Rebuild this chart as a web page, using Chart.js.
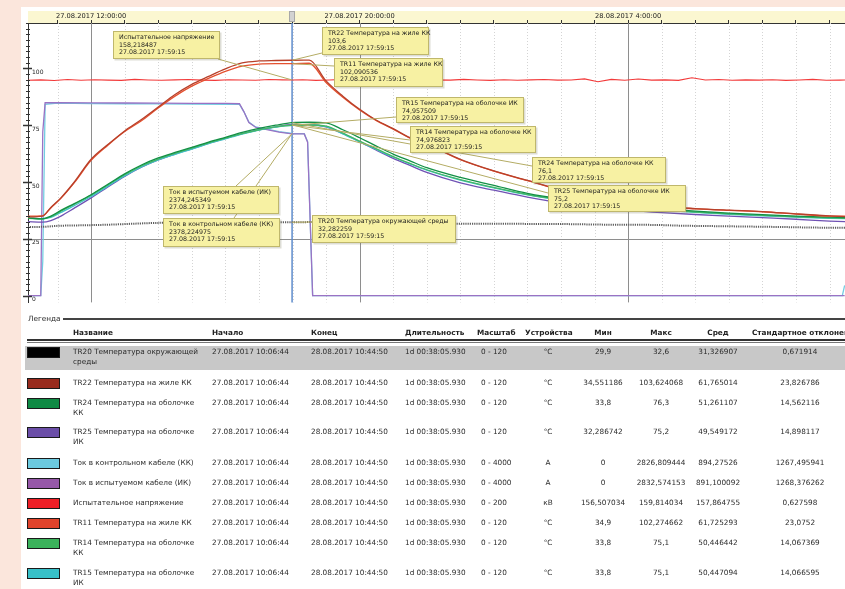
<!DOCTYPE html>
<html>
<head>
<meta charset="utf-8">
<title>Нагрев кабеля</title>
<script src="https://cdn.jsdelivr.net/npm/chart.js@4.4.1/dist/chart.umd.min.js"></script>
<style>
  html, body { margin: 0; padding: 0; width: 845px; height: 589px; overflow: hidden;
    background: #fbe6dc; font-family: "DejaVu Sans", Verdana, sans-serif; }
  #panel { position: absolute; left: 21px; top: 7px; width: 824px; height: 582px; background: #fff; }
  #chartBox { position: absolute; left: 0; top: 0; width: 845px; height: 310px; }
  #legend { position: absolute; left: 0; top: 0; width: 845px; height: 589px; overflow: hidden; }
  .t { position: absolute; font-size: 7.3px; line-height: 10px; color: #2b2b2b; white-space: nowrap; }
  .c { text-align: center; width: 90px; }
  .h { font-weight: bold; color: #222; }
  .nm { white-space: normal; width: 131px; line-height: 9.7px; }
  .sw { position: absolute; width: 31px; height: 9px; border: 1px solid #1a1a1a; box-sizing: content-box; }
  .hl { position: absolute; background: #c8c8c8; }
  .rule { position: absolute; background: #444; }
</style>
</head>
<body>
<div id="panel"></div>
<div id="chartBox"><canvas id="chart"></canvas></div>
<div id="legend"></div>
<script>
// ---- time axis: hours from 27.08.2017 00:00 ----
const cursorHour = 17.9875;               // 27.08.2017 17:59:15
const cursorStamp = '27.08.2017 17:59:15';
const axisHours = [11, 12, 13, 14, 15, 16, 17, 18, 19, 20, 21, 22, 23, 24, 25, 26, 27, 28, 29, 30, 31, 32, 33, 34];
const majorHours = [12, 20, 28];
const majorLabels = ['27.08.2017 12:00:00', '27.08.2017 20:00:00', '28.08.2017 4:00:00'];
const yTickValues = [0, 25, 50, 75, 100];

// ---- temperatures, °C ----
const hours = [10.11, 10.55, 10.8, 11.1, 11.5, 12.0, 12.5, 13.0, 13.5, 14.0, 14.5, 15.0, 15.5, 16.0, 16.5, 17.0, 17.5,
  17.9875, 18.5, 19.0, 19.5, 20.0, 20.5, 21.0, 21.5, 22.0, 23.0, 24.0, 25.0, 26.0, 27.0, 28.0, 29.0, 30.0, 31.0, 32.0, 33.0, 34.0, 34.75];
const tr22 = [34.6, 35.0, 38.8, 43.0, 50.0, 60.0, 66.5, 72.5, 77.5, 83.0, 88.5, 93.0, 96.5, 99.8, 102.4, 103.3, 103.5,
  103.6, 103.62, 94.5, 87.8, 82.0, 77.2, 73.5, 69.5, 66.8, 60.0, 54.9, 50.7, 46.5, 43.5, 41.2, 39.3, 38.3, 37.6, 37.0, 36.0, 35.1, 34.6];
const tr11 = [35.0, 35.1, 38.6, 42.8, 49.7, 59.5, 66.2, 72.2, 77.0, 82.6, 87.8, 92.2, 95.6, 98.7, 101.0, 101.9, 102.1,
  102.090536, 102.27, 93.8, 87.3, 81.7, 77.0, 73.3, 69.3, 66.6, 59.8, 54.8, 50.6, 46.4, 43.4, 41.1, 39.2, 38.2, 37.5, 36.9, 35.9, 35.0, 34.9];
const tr24 = [34.2, 33.8, 35.0, 37.5, 40.5, 44.4, 49.0, 53.6, 57.5, 60.6, 63.0, 65.2, 67.6, 69.7, 71.8, 73.6, 75.0,
  76.1, 76.3, 76.0, 73.0, 69.5, 65.8, 62.3, 59.3, 56.3, 52.0, 48.5, 45.0, 42.6, 41.0, 39.6, 38.3, 37.2, 36.3, 35.6, 35.0, 34.5, 34.2];
const tr14 = [34.0, 33.8, 34.7, 37.2, 40.2, 44.2, 48.7, 53.2, 57.1, 60.1, 62.6, 64.9, 67.2, 69.3, 71.3, 73.0, 74.3,
  74.976823, 75.1, 74.6, 71.5, 68.0, 64.6, 61.2, 58.2, 55.4, 51.0, 47.6, 44.5, 42.2, 40.4, 39.0, 37.8, 36.8, 36.0, 35.3, 34.7, 34.2, 33.9];
const tr15 = [34.1, 33.8, 34.4, 36.6, 39.6, 43.6, 48.2, 52.7, 56.6, 59.7, 62.2, 64.5, 66.9, 69.0, 71.1, 72.9, 74.2,
  74.957509, 75.1, 74.4, 71.2, 67.7, 64.3, 61.0, 58.0, 55.2, 50.8, 47.4, 44.3, 42.0, 40.2, 38.8, 37.6, 36.6, 35.8, 35.1, 34.5, 34.0, 33.8];
const tr25 = [32.6, 32.3, 33.0, 35.0, 38.5, 43.0, 47.8, 52.5, 56.5, 59.7, 62.3, 64.6, 67.0, 69.2, 71.3, 73.0, 74.3,
  75.2, 75.2, 74.3, 71.3, 67.8, 64.0, 60.4, 57.3, 54.2, 49.6, 46.4, 43.3, 40.7, 38.8, 37.5, 36.5, 35.7, 35.0, 34.3, 33.6, 32.8, 32.4];

// ---- ambient temperature TR20, °C ----
const ambHours = [10.11, 10.6, 11.0, 11.6, 12.5, 13.2, 14.0, 15.0, 16.5, 17.9875, 19.0, 20.5, 21.5, 22.5, 24.0, 26.0, 27.5, 28.8, 29.5, 31.0, 32.5, 33.9, 34.75];
const tr20 = [30.2, 30.3, 30.7, 30.9, 31.2, 31.6, 32.0, 32.1, 32.2, 32.282259, 32.4, 32.2, 31.9, 31.7, 31.6, 31.5, 31.2, 31.1, 30.8, 30.5, 30.2, 29.9, 29.9];

// ---- cable currents, A ----
const curHours = [10.11, 10.5, 10.56, 10.63, 11.0, 12.0, 13.0, 14.0, 15.0, 16.0, 16.42, 16.55, 16.7, 16.9, 17.2, 17.6,
  17.9875, 18.35, 18.45, 18.6, 20.0, 25.0, 30.0, 34.38, 34.45];
const curIK = [0, 0, 2400, 2832, 2830, 2828, 2826, 2825, 2822, 2820, 2815, 2700, 2540, 2470, 2440, 2400,
  2374.245349, 2372, 2250, 0, 0, 0, 0, 0, 0];
const curKK = [0, 0, 500, 2805, 2826, 2818, 2815, 2812, 2810, 2808, 2805, 2700, 2545, 2475, 2445, 2405,
  2378.224975, 2376, 2260, 0, 0, 0, 0, 0, 150];

// ---- test voltage, kV ----
const voltHours = [10.11, 10.5, 10.9, 11.3, 11.7, 12.1, 12.5, 12.9, 13.3, 13.7, 14.1, 14.5, 14.9, 15.3, 15.7, 16.1,
  16.5, 16.9, 17.3, 17.7, 17.9875, 18.3, 18.7, 19.1, 19.5, 19.9, 20.3, 20.7, 21.1, 21.5, 21.9, 22.3, 22.7, 23.1,
  23.5, 23.9, 24.3, 24.7, 25.1, 25.5, 25.9, 26.3, 26.7, 27.1, 27.5, 27.9, 28.3, 28.7, 29.1, 29.5, 29.9, 30.3,
  30.7, 31.1, 31.5, 31.9, 32.3, 32.7, 33.1, 33.5, 33.9, 34.3, 34.75];
const voltage = [158.0, 158.3, 157.8, 158.5, 158.0, 158.4, 158.1, 157.9, 158.6, 158.2, 158.0, 158.3, 158.5, 158.1,
  157.9, 158.4, 158.2, 158.0, 158.5, 158.3, 158.218487, 158.4, 157.9, 158.2, 158.6, 158.1, 158.3, 157.8, 158.2,
  158.5, 158.0, 158.3, 158.1, 158.6, 158.2, 157.9, 158.4, 158.0, 158.3, 158.5, 158.1, 158.2, 159.0, 156.9, 158.6,
  158.0, 158.9, 158.1, 158.3, 157.9, 159.8, 158.2, 158.5, 158.0, 158.3, 158.1, 158.4, 157.9, 158.2, 158.6, 158.0, 158.1, 158.3];

// ---- legend table ----
const legendNames = ['TR20 Температура окружающей среды', 'TR22 Температура на жиле КК', 'TR24 Температура на оболочке КК',
  'TR25 Температура на оболочке ИК', 'Ток в контрольном кабеле (КК)', 'Ток в испытуемом кабеле (ИК)',
  'Испытательное напряжение', 'TR11 Температура на жиле КК', 'TR14 Температура на оболочке КК', 'TR15 Температура на оболочке ИК'];
const legendColors = ['#000000', '#982b1d', '#0f8a44', '#6b4ea8', '#6ccadf', '#9658a8', '#ee1f26', '#e0432b', '#3bb25b', '#37c0c8'];
const legendStart = '27.08.2017 10:06:44';
const legendEnd = '28.08.2017 10:44:50';
const legendDuration = '1d 00:38:05.930';
const legendScales = ['0 - 120', '0 - 120', '0 - 120', '0 - 120', '0 - 4000', '0 - 4000', '0 - 200', '0 - 120', '0 - 120', '0 - 120'];
const legendUnits = ['°C', '°C', '°C', '°C', 'A', 'A', 'кВ', '°C', '°C', '°C'];
const statMin = ['29,9', '34,551186', '33,8', '32,286742', '0', '0', '156,507034', '34,9', '33,8', '33,8'];
const statMax = ['32,6', '103,624068', '76,3', '75,2', '2826,809444', '2832,574153', '159,814034', '102,274662', '75,1', '75,1'];
const statAvg = ['31,326907', '61,765014', '51,261107', '49,549172', '894,27526', '891,100092', '157,864755', '61,725293', '50,446442', '50,447094'];
const statStd = ['0,671914', '23,826786', '14,562116', '14,898117', '1267,495941', '1268,376262', '0,627598', '23,0752', '14,067369', '14,066595'];
const headers = ['Название', 'Начало', 'Конец', 'Длительность', 'Масштаб', 'Устройства', 'Мин', 'Макс', 'Сред', 'Стандартное отклонение'];

// ---- series drawn on the chart (first entry is drawn on top) ----
const series = [
  { name: 'TR20 Температура окружающей среды', t: ambHours, v: tr20, axis: 'y', color: '#5e5e5e', width: 2, dash: [1.2, 1] },
  { name: 'TR22 Температура на жиле КК', t: hours, v: tr22, axis: 'y', color: '#b8402a', width: 1.3 },
  { name: 'TR11 Температура на жиле КК', t: hours, v: tr11, axis: 'y', color: '#e5512f', width: 1.3 },
  { name: 'TR24 Температура на оболочке КК', t: hours, v: tr24, axis: 'y', color: '#139046', width: 1.3 },
  { name: 'TR14 Температура на оболочке КК', t: hours, v: tr14, axis: 'y', color: '#45b865', width: 1.3 },
  { name: 'TR15 Температура на оболочке ИК', t: hours, v: tr15, axis: 'y', color: '#3fc3cb', width: 1.3 },
  { name: 'TR25 Температура на оболочке ИК', t: hours, v: tr25, axis: 'y', color: '#7052b4', width: 1.3 },
  { name: 'Испытательное напряжение', t: voltHours, v: voltage, axis: 'yV', color: '#f23a3a', width: 1.1, straight: true },
  { name: 'Ток в испытуемом кабеле (ИК)', t: curHours, v: curIK, axis: 'yI', color: '#9a72c4', width: 1.3, straight: true },
  { name: 'Ток в контрольном кабеле (КК)', t: curHours, v: curKK, axis: 'yI', color: '#72cde2', width: 1.3, straight: true }
];

// callout boxes at the cursor: [left, top, width, height] and the leader start point
const callouts = [
  { name: 'Испытательное напряжение', box: [113, 31, 107, 28], from: [218, 59] },
  { name: 'TR22 Температура на жиле КК', box: [322, 27, 107, 28], from: [322, 53] },
  { name: 'TR11 Температура на жиле КК', box: [334, 58, 109, 29], from: [334, 66] },
  { name: 'TR15 Температура на оболочке ИК', box: [396, 97, 128, 26], from: [396, 117] },
  { name: 'TR14 Температура на оболочке КК', box: [410, 126, 126, 27], from: [410, 140] },
  { name: 'TR24 Температура на оболочке КК', box: [532, 157, 134, 26], from: [532, 166] },
  { name: 'TR25 Температура на оболочке ИК', box: [548, 185, 138, 27], from: [548, 193] },
  { name: 'Ток в контрольном кабеле (КК)', box: [163, 218, 117, 29], from: [234, 218] },
  { name: 'Ток в испытуемом кабеле (ИК)', box: [163, 186, 116, 28], from: [236, 186] },
  { name: 'TR20 Температура окружающей среды', box: [312, 215, 144, 28], from: [312, 222] }
];

const fmt = v => String(v).replace('.', ',');
const chartFont = '"DejaVu Sans", Verdana, sans-serif';

const datasets = series.map(s => ({
  label: s.name,
  data: s.t.map((t, i) => ({ x: t, y: s.v[i] })),
  yAxisID: s.axis,
  borderColor: s.color,
  borderWidth: s.width,
  borderDash: s.dash || [],
  pointRadius: 0,
  fill: false,
  tension: s.straight ? 0 : 0.4,
  cubicInterpolationMode: s.straight ? 'default' : 'monotone'
}));

const overlay = {
  id: 'overlay',
  beforeDatasetsDraw(chart) {
    const { ctx, chartArea: a, scales: { x, y } } = chart;
    ctx.save();
    axisHours.forEach(h => {
      const px = Math.round(x.getPixelForValue(h)) + 0.5;
      const major = majorHours.includes(h);
      ctx.beginPath();
      ctx.lineWidth = 1;
      ctx.strokeStyle = major ? '#8e8e8e' : '#d4d4d4';
      ctx.setLineDash(major ? [] : [1, 2]);
      ctx.moveTo(px, a.top);
      ctx.lineTo(px, a.bottom);
      ctx.stroke();
    });
    ctx.setLineDash([]);
    const py = Math.round(y.getPixelForValue(25)) + 0.5;
    ctx.strokeStyle = '#8e8e8e';
    ctx.beginPath(); ctx.moveTo(a.left, py); ctx.lineTo(a.right, py); ctx.stroke();
    const cx = x.getPixelForValue(cursorHour);
    ctx.strokeStyle = '#5d8bcb';
    ctx.lineWidth = 1.5;
    ctx.beginPath(); ctx.moveTo(cx, a.top); ctx.lineTo(cx, a.bottom); ctx.stroke();
    ctx.restore();
  },
  afterDatasetsDraw(chart) {
    const { ctx, scales } = chart;
    const cx = scales.x.getPixelForValue(cursorHour);
    ctx.save();
    const items = callouts.map(c => {
      const s = series.find(d => d.name === c.name);
      const value = s.v[s.t.indexOf(cursorHour)];
      return { c, value, py: scales[s.axis].getPixelForValue(value) };
    });
    ctx.strokeStyle = '#b4ac64';
    ctx.lineWidth = 1;
    items.forEach(({ c, py }) => {
      ctx.beginPath(); ctx.moveTo(c.from[0], c.from[1]); ctx.lineTo(cx, py); ctx.stroke();
    });
    ctx.font = '6.3px ' + chartFont;
    ctx.textBaseline = 'middle';
    items.forEach(({ c, value }) => {
      const [bx, by, bw, bh] = c.box;
      ctx.fillStyle = 'rgba(120,120,90,0.25)';
      ctx.fillRect(bx + 1.5, by + 1.5, bw, bh);
      ctx.fillStyle = '#f7f1a3';
      ctx.fillRect(bx, by, bw, bh);
      ctx.strokeStyle = '#bfb76c';
      ctx.strokeRect(bx + 0.5, by + 0.5, bw - 1, bh - 1);
      ctx.fillStyle = '#1c1c1c';
      [c.name, fmt(value), cursorStamp].forEach((line, k) => ctx.fillText(line, bx + 6, by + 6.5 + k * 7.6));
    });
    ctx.restore();
  },
  afterDraw(chart) {
    const { ctx, chartArea: a, scales: { x, y } } = chart;
    ctx.save();
    ctx.strokeStyle = '#333';
    ctx.lineWidth = 1;
    for (let v = 0; v <= 120; v += 2.5) {
      const py = Math.round(y.getPixelForValue(v)) + 0.5;
      const major = v % 25 === 0;
      ctx.lineWidth = major ? 1.5 : 1;
      ctx.beginPath();
      ctx.moveTo(a.left - (major ? 5 : 2), py);
      ctx.lineTo(a.left + (major ? 4 : 2), py);
      ctx.stroke();
    }
    const cx = Math.round(x.getPixelForValue(cursorHour));
    ctx.fillStyle = '#d2d2d2';
    ctx.fillRect(cx - 3, 11, 6, 11);
    ctx.strokeStyle = '#a8a8a8';
    ctx.strokeRect(cx - 2.5, 11.5, 5, 10);
    ctx.restore();
  }
};

new Chart(document.getElementById('chart'), {
  type: 'line',
  data: { datasets },
  plugins: [overlay],
  options: {
    responsive: true,
    maintainAspectRatio: false,
    animation: false,
    events: [],
    layout: { padding: { left: 28, top: 11, right: 0, bottom: 7 } },
    plugins: { legend: { display: false }, tooltip: { enabled: false } },
    scales: {
      x: {
        type: 'linear', position: 'top', min: 10.12, max: 34.46,
        backgroundColor: '#fbf7d1',
        afterBuildTicks: s => { s.ticks = axisHours.map(v => ({ value: v })); },
        afterFit: s => { s.height = 12; s.paddingLeft = 0; s.paddingRight = 0; },
        grid: { drawOnChartArea: false, drawTicks: true, tickLength: 3, tickColor: '#333' },
        border: { color: '#333' },
        ticks: {
          autoSkip: false, maxRotation: 0, padding: 0, color: '#222',
          font: { family: chartFont, size: 6.7 },
          callback: v => { const k = majorHours.indexOf(v); return k >= 0 ? majorLabels[k] : ''; }
        }
      },
      y: {
        type: 'linear', position: 'left', min: -3, max: 120,
        afterBuildTicks: s => { s.ticks = yTickValues.map(v => ({ value: v })); },
        afterFit: s => { s.width = 0; },
        grid: { display: false, drawTicks: false },
        border: { color: '#333' },
        ticks: {
          mirror: true, padding: 4, labelOffset: 4, color: '#222',
          font: { family: chartFont, size: 6 }
        }
      },
      yV: { type: 'linear', display: false, min: -5, max: 200 },
      yI: { type: 'linear', display: false, min: -100, max: 4000 }
    }
  }
});

// ---- legend table ----
const L = document.getElementById('legend');
function el(cls, text, left, top, extra) {
  const d = document.createElement('div');
  d.className = cls;
  if (text !== null) d.textContent = text;
  d.style.left = left + 'px';
  d.style.top = top + 'px';
  if (extra) Object.assign(d.style, extra);
  L.appendChild(d);
  return d;
}
el('t', 'Легенда', 28, 314);
el('rule', null, 63, 318, { width: '782px', height: '1.5px' });
const headerX = [73, 212, 311, 405, 477, 525, 603, 661, 718, 752];
headers.forEach((h, i) => {
  if (i >= 6 && i <= 8) el('t h c', h, headerX[i] - 45, 328);
  else el('t h', h, headerX[i], 328);
});
el('rule', null, 27, 339, { width: '818px', height: '1.5px', background: '#333' });
el('rule', null, 27, 341.5, { width: '818px', height: '1px', background: '#777' });

const rowY = [352, 383, 403, 432, 463, 483, 503, 523, 543, 573];
el('hl', null, 25, 346, { width: '820px', height: '24px' });
legendNames.forEach((name, i) => {
  const y = rowY[i];
  el('sw', null, 27, y - 5, { background: legendColors[i] });
  el('t nm', name, 73, y - 5);
  el('t', legendStart, 212, y - 5);
  el('t', legendEnd, 311, y - 5);
  el('t', legendDuration, 405, y - 5);
  el('t', legendScales[i], 481, y - 5);
  el('t c', legendUnits[i], 548 - 45, y - 5);
  el('t c', statMin[i], 603 - 45, y - 5);
  el('t c', statMax[i], 661 - 45, y - 5);
  el('t c', statAvg[i], 718 - 45, y - 5);
  el('t c', statStd[i], 800 - 45, y - 5);
});
</script>
</body>
</html>
